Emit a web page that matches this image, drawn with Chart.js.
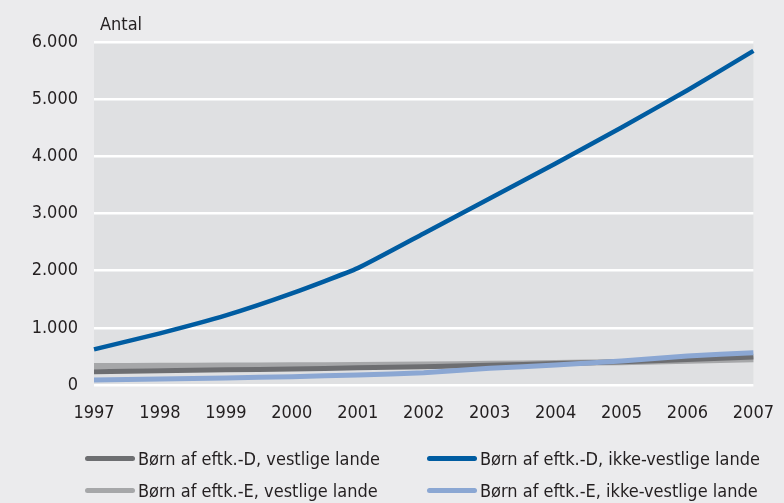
<!DOCTYPE html>
<html>
<head>
<meta charset="utf-8">
<script src="https://cdn.jsdelivr.net/npm/chart.js@4"></script>
<style>
    html, body { margin: 0; padding: 0; background: #ebebed; }
    #wrap { position: relative; width: 784px; height: 503px; }
    #legend {
        position: absolute; left: 85px; top: 446px;
        display: grid; grid-template-columns: 342px 340px; row-gap: 8px;
        font-family: "DejaVu Sans Condensed", sans-serif;
        font-size: 18px; color: #231f20; white-space: nowrap;
    }
    .item { display: flex; align-items: center; height: 24px; }
    .swatch { width: 50px; height: 5px; border-radius: 3px; margin-right: 3px; flex: none; }
</style>
</head>
<body>
<div id="wrap">
    <canvas id="grafico" width="784" height="503"></canvas>
    <div id="legend"></div>
</div>
<script>
// Dados
const anos = ['1997', '1998', '1999', '2000', '2001', '2002', '2003', '2004', '2005', '2006', '2007'];
const dVestlige = [233, 250, 265, 280, 300, 320, 345, 375, 405, 445, 488];
const dIkkeVestlige = [624, 904, 1218, 1603, 2045, 2652, 3264, 3876, 4505, 5157, 5844];
const eVestlige = [332, 335, 340, 345, 350, 360, 370, 385, 400, 425, 450];
const eIkkeVestlige = [87, 105, 122, 146, 175, 216, 291, 350, 420, 507, 565];

const fonte = '"DejaVu Sans Condensed", sans-serif';

const series = [
    { label: 'Børn af eftk.-D, vestlige lande', data: dVestlige, cor: '#6d6e71', largura: 5 },
    { label: 'Børn af eftk.-D, ikke-vestlige lande', data: dIkkeVestlige, cor: '#005ca1', largura: 4.5 },
    { label: 'Børn af eftk.-E, vestlige lande', data: eVestlige, cor: '#a6a7a9', largura: 6 },
    { label: 'Børn af eftk.-E, ikke-vestlige lande', data: eIkkeVestlige, cor: '#8ba7d3', largura: 5 }
];

// ordem de desenho: cinzas por baixo
const ordem = [2, 0, 3, 1];

// fundo da área do gráfico + título "Antal"
const fundoPlugin = {
    id: 'fundo',
    beforeDraw(chart) {
        const { ctx, chartArea } = chart;
        ctx.save();
        ctx.fillStyle = '#dfe0e2';
        ctx.fillRect(chartArea.left, chartArea.top, chartArea.right - chartArea.left, chartArea.bottom - chartArea.top);
        ctx.fillStyle = '#231f20';
        ctx.font = '18px ' + fonte;
        ctx.textBaseline = 'alphabetic';
        ctx.fillText('Antal', chartArea.left + 6, chartArea.top - 12);
        ctx.restore();
    }
};

const ctx = document.getElementById('grafico').getContext('2d');

new Chart(ctx, {
    type: 'line',
    data: {
        labels: anos,
        datasets: series.map((s, i) => ({
            label: s.label,
            data: s.data,
            borderColor: s.cor,
            borderWidth: s.largura,
            pointRadius: 0,
            tension: 0.15,
            fill: false,
            order: ordem[i]
        }))
    },
    options: {
        responsive: false,
        animation: false,
        layout: { padding: { left: 0, right: 26, top: 42, bottom: 78 } },
        plugins: {
            legend: { display: false },
            tooltip: { enabled: false }
        },
        scales: {
            x: {
                offset: false,
                grid: { display: false },
                border: { display: false },
                ticks: {
                    color: '#231f20',
                    font: { family: fonte, size: 18 },
                    maxRotation: 0,
                    autoSkip: false,
                    padding: 10
                },
                afterFit(axis) { axis.height = 40; }
            },
            y: {
                min: 0,
                max: 6000,
                grid: { color: '#ffffff', lineWidth: 2.5, drawTicks: false },
                border: { display: false },
                ticks: {
                    stepSize: 1000,
                    color: '#231f20',
                    font: { family: fonte, size: 18 },
                    padding: 16,
                    callback: v => v.toLocaleString('da-DK')
                },
                afterFit(axis) { axis.width = 94; }
            }
        }
    },
    plugins: [fundoPlugin]
});

// Legenda
const legenda = document.getElementById('legend');
series.forEach(s => {
    const item = document.createElement('div');
    item.className = 'item';
    item.innerHTML = `<span class="swatch" style="background:${s.cor}"></span><span>${s.label}</span>`;
    legenda.appendChild(item);
});
</script>
</body>
</html>
